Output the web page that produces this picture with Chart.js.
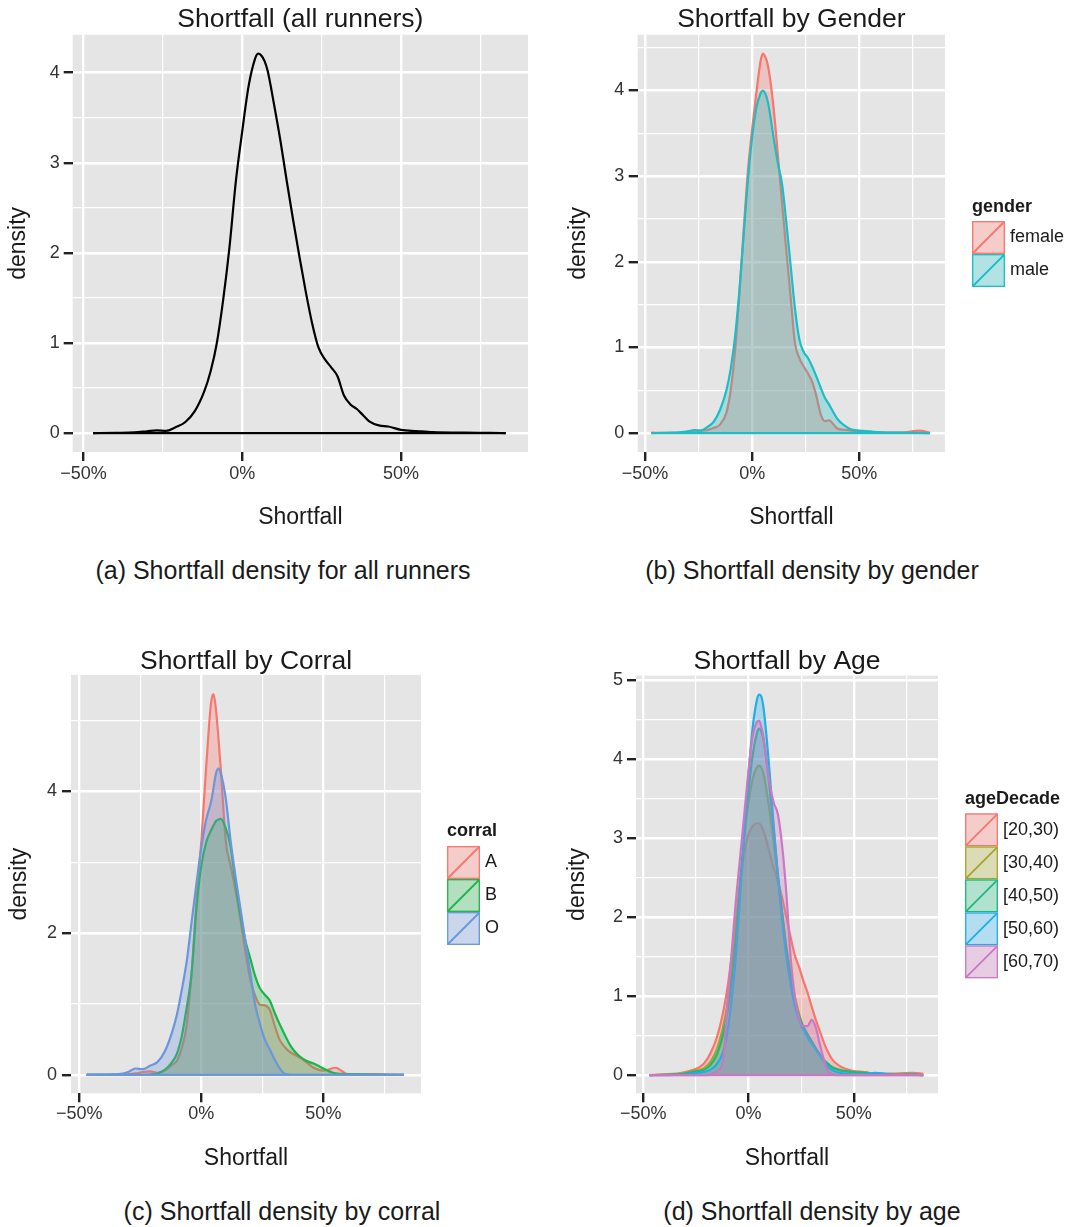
<!DOCTYPE html>
<html>
<head>
<meta charset="utf-8">
<script src="https://cdn.jsdelivr.net/npm/chart.js@4/dist/chart.umd.min.js"></script>
<style>
  body { margin: 0; background: #fff; width: 1074px; height: 1227px; position: relative; overflow: hidden;
         font-family: "Liberation Sans", Arial, sans-serif; }
  canvas { position: absolute; }
  .cap { position: absolute; font-size: 25px; color: #1a1a1a; white-space: nowrap; transform: translate(-50%, -50%); }
</style>
</head>
<body>
<canvas id="chartA" width="540" height="540" style="left:0;top:0"></canvas>
<canvas id="chartB" width="534" height="540" style="left:540px;top:0"></canvas>
<canvas id="chartC" width="540" height="539" style="left:0;top:641px"></canvas>
<canvas id="chartD" width="534" height="539" style="left:540px;top:641px"></canvas>
<div class="cap" style="left:283px;top:570px">(a) Shortfall density for all runners</div>
<div class="cap" style="left:812px;top:570px">(b) Shortfall density by gender</div>
<div class="cap" style="left:282px;top:1211px">(c) Shortfall density by corral</div>
<div class="cap" style="left:812px;top:1211px">(d) Shortfall density by age</div>
<script>
// shortfall grid (%) shared by every density curve
const shortfall = [-47, -40, -34, -30, -27, -24, -21, -18, -15, -12,
  -10, -8, -6, -4, -2, 0, 2, 4, 5, 6,
  7, 8, 10, 12, 14, 16, 18, 20, 22, 24,
  26, 28, 30, 32, 34, 36, 38, 40, 43, 46,
  50, 55, 60, 70, 78, 83];

const allRunners = [0, 0.003, 0.007, 0.02, 0.03, 0.025, 0.065, 0.12, 0.24, 0.46,
  0.68, 1.0, 1.48, 2.07, 2.8, 3.35, 3.85, 4.15, 4.21, 4.19,
  4.13, 4.02, 3.65, 3.25, 2.8, 2.37, 1.96, 1.57, 1.22, 0.95,
  0.82, 0.73, 0.63, 0.42, 0.32, 0.27, 0.2, 0.13, 0.085, 0.073,
  0.035, 0.022, 0.01, 0.004, 0.003, 0];

const genderLevels = ["female", "male"];
const female = [0.005, 0.003, 0.005, 0.015, 0.03, 0.03, 0.035, 0.06, 0.1, 0.24,
  0.5, 0.95, 1.6, 2.35, 3.05, 3.55, 3.98, 4.35, 4.43, 4.4,
  4.33, 4.2, 3.8, 3.25, 2.68, 2.12, 1.58, 1.05, 0.88, 0.78,
  0.7, 0.6, 0.43, 0.22, 0.14, 0.15, 0.1, 0.05, 0.04, 0.03,
  0.02, 0.015, 0.008, 0.005, 0.03, 0.005];
const male = [0, 0.005, 0.01, 0.02, 0.035, 0.03, 0.07, 0.13, 0.27, 0.5,
  0.75, 1.12, 1.65, 2.3, 2.95, 3.45, 3.8, 3.97, 4.0, 3.97,
  3.9, 3.78, 3.45, 3.15, 2.9, 2.45, 1.95, 1.45, 1.1, 0.95,
  0.88, 0.78, 0.66, 0.53, 0.41, 0.33, 0.24, 0.16, 0.09, 0.045,
  0.03, 0.02, 0.01, 0.005, 0.003, 0];

const corralLevels = ["A", "B", "O"];
const corralA = [0, 0, 0.005, 0.01, 0.02, 0.04, 0.05, 0.03, 0.06, 0.14,
  0.2, 0.38, 0.7, 1.43, 2.45, 3.3, 4.35, 5.25, 5.37, 5.15,
  4.75, 4.3, 3.3, 2.95, 2.6, 2.2, 1.75, 1.35, 1.12, 0.99,
  0.98, 0.92, 0.7, 0.5, 0.4, 0.33, 0.29, 0.25, 0.18, 0.1,
  0.06, 0.1, 0.01, 0.01, 0.003, 0];
const corralB = [0, 0, 0, 0, 0, 0, 0.005, 0.02, 0.07, 0.18,
  0.3, 0.55, 0.95, 1.43, 2.35, 2.95, 3.28, 3.45, 3.52, 3.58,
  3.6, 3.61, 3.48, 3.22, 2.7, 2.25, 1.9, 1.65, 1.4, 1.22,
  1.13, 1.05, 0.88, 0.72, 0.58, 0.44, 0.34, 0.27, 0.2, 0.16,
  0.09, 0.02, 0.01, 0.005, 0, 0];
const corralO = [0.005, 0.005, 0.01, 0.04, 0.09, 0.08, 0.13, 0.18, 0.33, 0.6,
  0.85, 1.2, 1.6, 2.15, 2.7, 3.21, 3.6, 3.85, 4.05, 4.25,
  4.32, 4.25, 3.9, 3.3, 2.8, 2.35, 1.9, 1.45, 1.0, 0.72,
  0.5, 0.36, 0.22, 0.1, 0.02, 0.005, 0, 0, 0, 0,
  0, 0, 0, 0, 0, 0];

const ageLevels = ["[20,30)", "[30,40)", "[40,50)", "[50,60)", "[60,70)"];
const age20 = [0, 0.01, 0.02, 0.04, 0.06, 0.09, 0.15, 0.28, 0.48, 0.8,
  1.1, 1.5, 1.95, 2.45, 2.82, 3.05, 3.15, 3.19, 3.19, 3.16,
  3.1, 3.02, 2.82, 2.62, 2.45, 2.25, 2.0, 1.75, 1.52, 1.37,
  1.2, 1.05, 0.87, 0.7, 0.55, 0.4, 0.28, 0.19, 0.12, 0.08,
  0.05, 0.04, 0.02, 0.02, 0.03, 0.02];
const age30 = [0, 0.005, 0.01, 0.03, 0.05, 0.06, 0.09, 0.17, 0.33, 0.62,
  0.9, 1.3, 1.85, 2.45, 3.0, 3.45, 3.75, 3.9, 3.92, 3.9,
  3.83, 3.7, 3.35, 2.95, 2.5, 2.05, 1.62, 1.3, 1.0, 0.78,
  0.6, 0.5, 0.42, 0.33, 0.25, 0.18, 0.13, 0.09, 0.06, 0.05,
  0.04, 0.04, 0.01, 0.005, 0.003, 0];
const age40 = [0, 0.005, 0.01, 0.02, 0.04, 0.05, 0.07, 0.13, 0.26, 0.52,
  0.8, 1.2, 1.75, 2.4, 3.05, 3.6, 4.05, 4.33, 4.39, 4.36,
  4.27, 4.1, 3.65, 3.1, 2.55, 2.05, 1.6, 1.25, 0.95, 0.75,
  0.62, 0.52, 0.43, 0.34, 0.26, 0.19, 0.14, 0.1, 0.07, 0.05,
  0.04, 0.03, 0.01, 0.005, 0.01, 0];
const age50 = [0, 0, 0.005, 0.01, 0.02, 0.03, 0.04, 0.07, 0.14, 0.3,
  0.55, 0.95, 1.5, 2.25, 3.05, 3.8, 4.4, 4.75, 4.82, 4.8,
  4.68, 4.45, 3.85, 3.15, 2.5, 1.95, 1.5, 1.15, 0.88, 0.7,
  0.58, 0.48, 0.4, 0.32, 0.25, 0.17, 0.1, 0.06, 0.03, 0.02,
  0.01, 0.01, 0.03, 0.005, 0.005, 0];
const age60 = [0, 0, 0, 0, 0, 0, 0, 0.01, 0.05, 0.2,
  0.9, 1.55, 2.2, 2.75, 3.3, 3.85, 4.3, 4.47, 4.49, 4.42,
  4.3, 4.1, 3.7, 3.45, 3.3, 2.9, 2.3, 1.5, 1.0, 0.72,
  0.62, 0.62, 0.7, 0.6, 0.38, 0.18, 0.04, 0.01, 0, 0,
  0, 0, 0, 0, 0, 0];

// axis ticks
const xMajor = [-50, 0, 50];
const xLabels = ["\u221250%", "0%", "50%"];
const xMinor = [-25, 25, 75];
const yMajorA = [0, 1, 2, 3, 4];
const yMinorA = [0.5, 1.5, 2.5, 3.5];
const yMajorB = [0, 1, 2, 3, 4];
const yMinorB = [0.5, 1.5, 2.5, 3.5, 4.5];
const yMajorC = [0, 2, 4];
const yMinorC = [1, 3, 5];
const yMajorD = [0, 1, 2, 3, 4, 5];
const yMinorD = [0.5, 1.5, 2.5, 3.5, 4.5];

const FONT = '"Liberation Sans", Arial, sans-serif';
const TEXT = "#1a1a1a";
Chart.defaults.font.family = FONT;

function alpha(hex, a) {
  const n = parseInt(hex.slice(1), 16);
  return `rgba(${n >> 16},${(n >> 8) & 255},${n & 255},${a})`;
}

const panelBg = {
  id: "panelBg",
  beforeDraw(chart) {
    const { ctx, chartArea: a } = chart;
    ctx.save();
    ctx.fillStyle = "#E5E5E5";
    ctx.fillRect(a.left, a.top, a.right - a.left, a.bottom - a.top);
    ctx.restore();
  }
};

// ggplot-like fill legend, drawn in the right margin
function keyLegend(title, labels, colors, pos) {
  return {
    id: "keyLegend",
    afterDraw(chart) {
      const ctx = chart.ctx;
      const s = pos.size;
      ctx.save();
      ctx.fillStyle = TEXT;
      ctx.textBaseline = "middle";
      ctx.font = "bold 18px " + FONT;
      ctx.fillText(title, pos.x, pos.titleY);
      ctx.font = "18px " + FONT;
      labels.forEach((lab, i) => {
        const top = pos.top + i * s;
        ctx.fillStyle = "#F2F2F2";
        ctx.fillRect(pos.x, top, s, s);
        ctx.fillStyle = alpha(colors[i], 0.3);
        ctx.fillRect(pos.x, top, s, s);
        ctx.strokeStyle = colors[i];
        ctx.lineWidth = 1.3;
        ctx.strokeRect(pos.x + 0.7, top + 0.7, s - 1.4, s - 1.4);
        ctx.beginPath();
        ctx.moveTo(pos.x + 1, top + s - 1);
        ctx.lineTo(pos.x + s - 1, top + 1);
        ctx.lineWidth = 1.8;
        ctx.stroke();
        ctx.fillStyle = TEXT;
        ctx.fillText(lab, pos.labelX, top + s / 2);
      });
      ctx.restore();
    }
  };
}

function densitySets(series, colors, filled) {
  const sets = series.map((ys, i) => ({
    data: shortfall.map((x, j) => ({ x, y: ys[j] })),
    borderColor: colors[i],
    backgroundColor: alpha(colors[i], 0.3),
    fill: filled ? "origin" : false,
    borderWidth: 2.2,
    pointRadius: 0,
    cubicInterpolationMode: "monotone",
    order: series.length - i + 1
  }));
  sets.push({
    data: [{ x: shortfall[0], y: 0 }, { x: shortfall[shortfall.length - 1], y: 0 }],
    borderColor: colors[colors.length - 1],
    borderWidth: 2.2,
    pointRadius: 0,
    fill: false,
    order: 0
  });
  return sets;
}

function makePanel(id, cfg) {
  const yMajor = cfg.yMajor, yMinor = cfg.yMinor;
  const isMajorX = v => xMajor.includes(v);
  const isMajorY = v => yMajor.includes(v);
  return new Chart(document.getElementById(id), {
    type: "line",
    data: { datasets: cfg.datasets },
    plugins: cfg.legend ? [panelBg, cfg.legend] : [panelBg],
    options: {
      responsive: false,
      animation: false,
      devicePixelRatio: 1,
      events: [],
      layout: { padding: { left: 0, right: cfg.padRight, top: 0, bottom: 0 } },
      plugins: {
        legend: { display: false },
        tooltip: { enabled: false },
        title: {
          display: true,
          text: cfg.title,
          fullSize: false,
          color: TEXT,
          font: { size: 26.5, weight: "normal" },
          padding: { top: cfg.titleTop, bottom: cfg.titleBottom }
        }
      },
      scales: {
        x: {
          type: "linear",
          min: -53.4,
          max: 90,
          afterBuildTicks: s => { s.ticks = xMajor.concat(xMinor).sort((a, b) => a - b).map(v => ({ value: v })); },
          afterFit: s => { s.height = cfg.xH; },
          border: { display: false },
          grid: {
            color: "#fff",
            lineWidth: c => (isMajorX(c.tick.value) ? 2.4 : 1.2),
            tickColor: c => (isMajorX(c.tick.value) ? "#222" : "rgba(0,0,0,0)"),
            tickWidth: 2.4,
            tickLength: 9
          },
          ticks: {
            autoSkip: false,
            maxRotation: 0,
            padding: cfg.xTickPad,
            color: "#333",
            font: { size: 18 },
            callback: v => (isMajorX(v) ? xLabels[xMajor.indexOf(v)] : "")
          },
          title: {
            display: true,
            text: "Shortfall",
            color: TEXT,
            font: { size: 23 },
            padding: { top: 0, bottom: cfg.xTitlePad }
          }
        },
        y: {
          type: "linear",
          min: cfg.yMin,
          max: cfg.yMax,
          afterBuildTicks: s => { s.ticks = yMajor.concat(yMinor).sort((a, b) => a - b).map(v => ({ value: v })); },
          afterFit: s => { s.width = cfg.yW; },
          border: { display: false },
          grid: {
            color: "#fff",
            lineWidth: c => (isMajorY(c.tick.value) ? 2.4 : 1.2),
            tickColor: c => (isMajorY(c.tick.value) ? "#222" : "rgba(0,0,0,0)"),
            tickWidth: 2.4,
            tickLength: 9
          },
          ticks: {
            autoSkip: false,
            padding: cfg.yTickPad,
            color: "#333",
            font: { size: 18 },
            callback: v => (isMajorY(v) ? String(v) : "")
          },
          title: {
            display: true,
            text: "density",
            color: TEXT,
            font: { size: 23 },
            padding: { top: cfg.yTitlePad, bottom: 0 }
          }
        }
      }
    }
  });
}

const genderColors = ["#F8766D", "#1CBDC4"];
const corralColors = ["#F8766D", "#1FB44A", "#6A96DC"];
const ageColors = ["#F8766D", "#A6A52A", "#1BB97E", "#1FAEE8", "#CC77C4"];

makePanel("chartA", {
  title: "Shortfall (all runners)",
  datasets: densitySets([allRunners], ["#000000"], false),
  padRight: 12, titleTop: 4, titleBottom: -1, yW: 72.7, xH: 88,
  yMin: -0.21, yMax: 4.42, yMajor: yMajorA, yMinor: yMinorA,
  xTickPad: 2, yTickPad: 4, xTitlePad: 8.2, yTitlePad: 5.2
});

makePanel("chartB", {
  title: "Shortfall by Gender",
  datasets: densitySets([female, male], genderColors, true),
  legend: keyLegend("gender", genderLevels, genderColors, { x: 432, titleY: 207, top: 221, size: 33, labelX: 470 }),
  padRight: 129, titleTop: 4, titleBottom: -1, yW: 97.7, xH: 88,
  yMin: -0.22, yMax: 4.65, yMajor: yMajorB, yMinor: yMinorB,
  xTickPad: 2, yTickPad: 4.4, xTitlePad: 8.2, yTitlePad: 24.9
});

makePanel("chartC", {
  title: "Shortfall by Corral",
  datasets: densitySets([corralA, corralB, corralO], corralColors, true),
  legend: keyLegend("corral", corralLevels, corralColors, { x: 447, titleY: 190, top: 205, size: 33, labelX: 485 }),
  padRight: 119, titleTop: 4.6, titleBottom: -2.5, yW: 71, xH: 86.7,
  yMin: -0.26, yMax: 5.64, yMajor: yMajorC, yMinor: yMinorC,
  xTickPad: 1, yTickPad: 5, xTitlePad: 7.2, yTitlePad: 5.4
});

makePanel("chartD", {
  title: "Shortfall by Age",
  datasets: densitySets([age20, age30, age40, age50, age60], ageColors, true),
  legend: keyLegend("ageDecade", ageLevels, ageColors, { x: 425, titleY: 158, top: 172.3, size: 33, labelX: 463 }),
  padRight: 136, titleTop: 5, titleBottom: -2.2, yW: 96, xH: 86.7,
  yMin: -0.23, yMax: 5.06, yMajor: yMajorD, yMinor: yMinorD,
  xTickPad: 1, yTickPad: 4, xTitlePad: 7.2, yTitlePad: 23.7
});
</script>
</body>
</html>
